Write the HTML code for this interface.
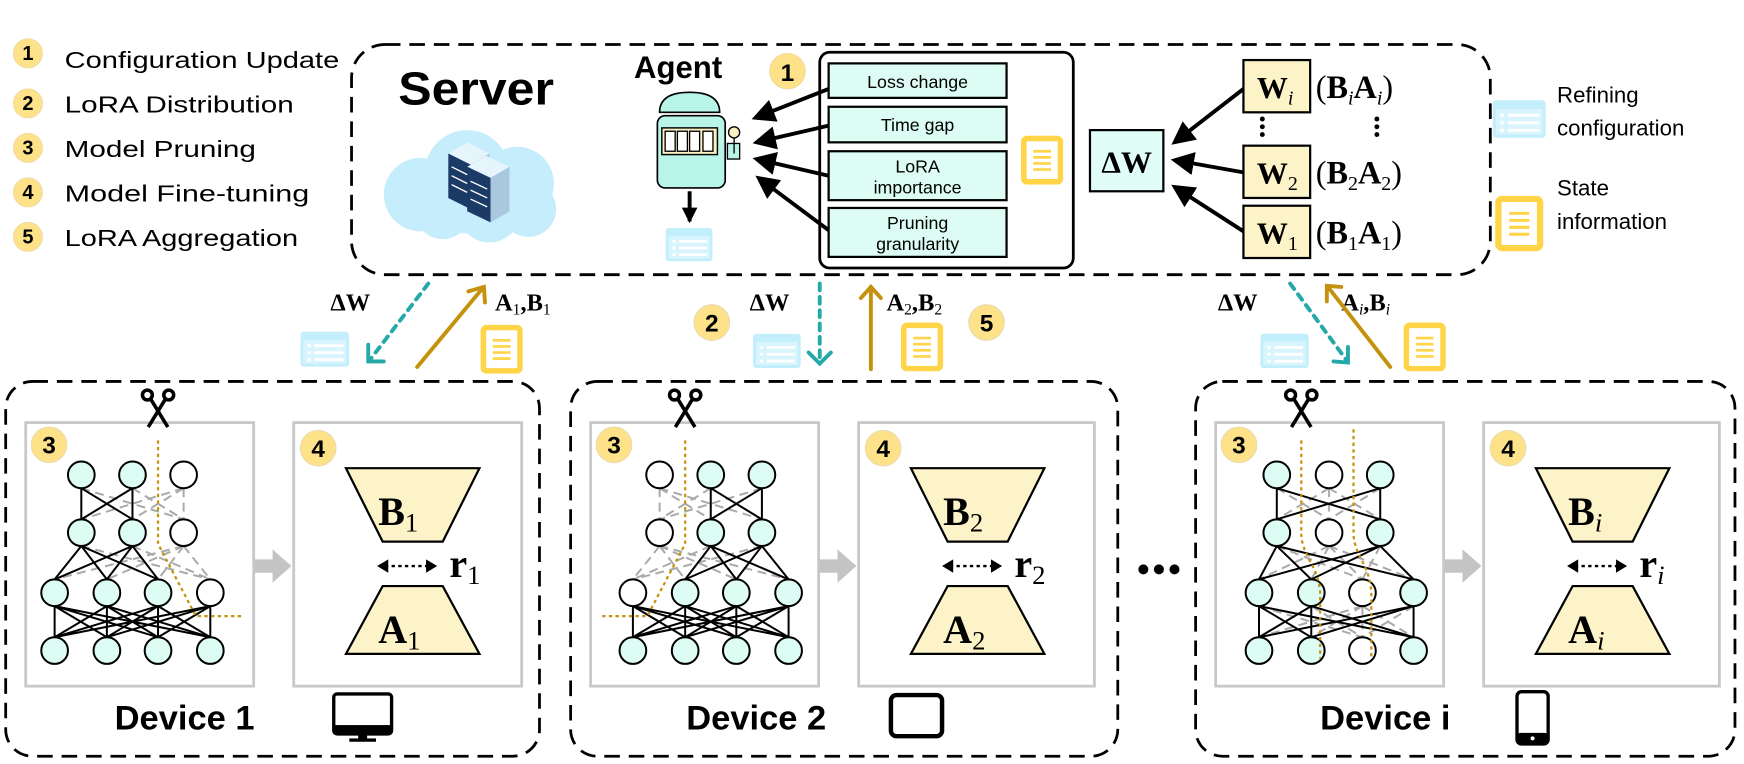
<!DOCTYPE html>
<html><head><meta charset="utf-8"><style>
html,body{margin:0;padding:0;background:#fff;}
svg{display:block;}
.s{font-family:"Liberation Sans",sans-serif;}
.m{font-family:"Liberation Serif",serif;}
</style></head><body>
<svg width="1744" height="764" viewBox="0 0 1568 687" xmlns="http://www.w3.org/2000/svg">
<defs>
<marker id="ab" markerWidth="6" markerHeight="6" refX="5" refY="3" orient="auto" markerUnits="strokeWidth"><path d="M0,0 L6,3 L0,6 Z" fill="#000"/></marker>
<marker id="ab2" markerWidth="4" markerHeight="4" refX="3.5" refY="2" orient="auto" markerUnits="strokeWidth"><path d="M0,0 L4,2 L0,4 Z" fill="#000"/></marker>
<symbol id="blue" viewBox="0 0 42 30"><rect x="0" y="0" width="42" height="30" rx="3" fill="#c3eefc"/><rect x="2.5" y="7" width="37" height="20.5" fill="#fff" opacity="0.35"/><g stroke="#fff" stroke-width="2.4"><line x1="6" y1="12" x2="9" y2="12"/><line x1="12" y1="12" x2="37" y2="12"/><line x1="6" y1="18" x2="9" y2="18"/><line x1="12" y1="18" x2="37" y2="18"/><line x1="6" y1="24" x2="9" y2="24"/><line x1="12" y1="24" x2="37" y2="24"/></g></symbol>
<symbol id="doc" viewBox="0 0 38 44"><rect x="2.5" y="2.5" width="33" height="39" rx="3" fill="#fff" stroke="#ffd447" stroke-width="5"/><g stroke="#ffd447" stroke-width="2.4"><line x1="11" y1="14" x2="27" y2="14"/><line x1="11" y1="19.5" x2="27" y2="19.5"/><line x1="11" y1="25" x2="27" y2="25"/><line x1="11" y1="30.5" x2="27" y2="30.5"/></g></symbol>
<symbol id="sc" viewBox="0 0 40 48"><g stroke="#000" stroke-width="4" fill="none"><circle cx="8" cy="8" r="5.5"/><circle cx="32" cy="8" r="5.5"/><line x1="12" y1="13" x2="31" y2="44"/><line x1="28" y1="13" x2="9" y2="44"/></g></symbol>
</defs>

<!-- legend -->
<g class="s" font-size="19" fill="#000">
<g fill="#fde28a" stroke="#f1dba0" stroke-width="1">
<circle cx="25" cy="48" r="13"/><circle cx="25" cy="93" r="13"/><circle cx="25" cy="133" r="13"/><circle cx="25" cy="173" r="13"/><circle cx="25" cy="213" r="13"/></g>
<g font-weight="bold" font-size="18" text-anchor="middle"><text x="25" y="54">1</text><text x="25" y="99">2</text><text x="25" y="139">3</text><text x="25" y="179">4</text><text x="25" y="219">5</text></g>
<g font-size="21">
<text x="58" y="61" textLength="247" lengthAdjust="spacingAndGlyphs">Configuration Update</text>
<text x="58" y="101" textLength="206" lengthAdjust="spacingAndGlyphs">LoRA Distribution</text>
<text x="58" y="141" textLength="172" lengthAdjust="spacingAndGlyphs">Model Pruning</text>
<text x="58" y="181" textLength="220" lengthAdjust="spacingAndGlyphs">Model Fine-tuning</text>
<text x="58" y="221" textLength="210" lengthAdjust="spacingAndGlyphs">LoRA Aggregation</text></g>
</g>

<!-- server box -->
<rect x="316" y="40" width="1024" height="207" rx="30" fill="none" stroke="#000" stroke-width="2.5" stroke-dasharray="14 8"/>
<text x="358" y="94" class="s" font-size="42" font-weight="bold" textLength="140" lengthAdjust="spacingAndGlyphs">Server</text>
<!-- cloud -->
<g fill="#c6edfb">
<circle cx="378" cy="175" r="33"/><circle cx="420" cy="155" r="38"/><circle cx="465" cy="165" r="33"/><circle cx="440" cy="190" r="28"/><circle cx="398" cy="190" r="25"/><circle cx="475" cy="188" r="25"/><ellipse cx="425" cy="185" rx="70" ry="25"/>
</g>
<g>
<polygon points="403,138 420,128 440,138 423,148" fill="#e6f4fc"/>
<polygon points="403,138 423,148 423,188 403,178" fill="#1b3a66"/>
<polygon points="423,148 440,138 440,178 423,188" fill="#a9c7de"/>
<polygon points="420,150 437,140 458,150 441,160" fill="#e6f4fc"/>
<polygon points="420,150 441,160 441,200 420,190" fill="#1b3a66"/>
<polygon points="441,160 458,150 458,190 441,200" fill="#a9c7de"/>
<g stroke="#fff" stroke-width="1.2"><line x1="406" y1="150" x2="420" y2="157"/><line x1="406" y1="158" x2="420" y2="165"/><line x1="406" y1="166" x2="420" y2="173"/><line x1="423" y1="163" x2="438" y2="170"/><line x1="423" y1="171" x2="438" y2="178"/><line x1="423" y1="179" x2="438" y2="186"/></g>
</g>

<!-- agent -->
<text x="570" y="70" class="s" font-size="28" font-weight="bold">Agent</text>
<circle cx="708" cy="64" r="16" fill="#fde28a" stroke="#f1dba0"/>
<text x="708" y="73" class="s" font-size="22" font-weight="bold" text-anchor="middle">1</text>
<path d="M593,101 Q593,83 620,83 Q647,83 647,101 Z" fill="#b8f5e8" stroke="#000" stroke-width="1.5"/>
<rect x="591" y="104" width="61" height="65" rx="7" fill="#b8f5e8" stroke="#000" stroke-width="1.5"/>
<rect x="595" y="115" width="50" height="24" fill="#fbf0c4" stroke="#000" stroke-width="1.3"/>
<g fill="#fff" stroke="#000" stroke-width="1.2"><rect x="598" y="118" width="9" height="18"/><rect x="609" y="118" width="9" height="18"/><rect x="620" y="118" width="9" height="18"/><rect x="632" y="118" width="9" height="18"/></g>
<rect x="654" y="129" width="11" height="14" fill="#b8f5e8" stroke="#000" stroke-width="1.2"/>
<line x1="660" y1="121" x2="660" y2="138" stroke="#000" stroke-width="1.2"/>
<circle cx="660" cy="119" r="5" fill="#fbf0c4" stroke="#000" stroke-width="1.2"/>
<line x1="620" y1="172" x2="620" y2="199" stroke="#000" stroke-width="3.5" marker-end="url(#ab2)"/>
<use href="#blue" x="598" y="205" width="43" height="30"/>

<!-- inner panel -->
<rect x="737" y="47" width="228" height="194" rx="9" fill="#fff" stroke="#000" stroke-width="2.5"/>
<g fill="#dcfcf4" stroke="#000" stroke-width="2">
<rect x="745" y="57" width="160" height="31"/><rect x="745" y="96" width="160" height="32"/><rect x="745" y="136" width="160" height="44"/><rect x="745" y="187" width="160" height="44"/></g>
<g class="s" font-size="16" text-anchor="middle">
<text x="825" y="79">Loss change</text>
<text x="825" y="118">Time gap</text>
<text x="825" y="155">LoRA</text><text x="825" y="174">importance</text>
<text x="825" y="206">Pruning</text><text x="825" y="225">granularity</text></g>
<use href="#doc" x="918" y="122" width="38" height="44"/>
<g stroke="#000" stroke-width="3.5" marker-end="url(#ab)">
<line x1="745" y1="80" x2="679" y2="106"/><line x1="745" y1="113" x2="680" y2="128"/><line x1="745" y1="158" x2="680" y2="143"/><line x1="745" y1="207" x2="682" y2="160"/></g>

<!-- ΔW and W boxes -->
<rect x="980" y="117" width="66" height="55" fill="#e0fdf7" stroke="#000" stroke-width="2"/>
<text x="1013" y="155" class="m" font-size="28" font-weight="bold" text-anchor="middle">ΔW</text>
<g fill="#fdf3c8" stroke="#000" stroke-width="2">
<rect x="1118" y="54" width="60" height="47"/><rect x="1118" y="131" width="60" height="47"/><rect x="1118" y="185" width="60" height="47"/></g>
<g class="m" font-size="28" font-weight="bold">
<text x="1130" y="88">W<tspan font-size="18" font-style="italic" font-weight="normal" dy="6">i</tspan></text>
<text x="1130" y="165">W<tspan font-size="18" font-weight="normal" dy="6">2</tspan></text>
<text x="1130" y="219">W<tspan font-size="18" font-weight="normal" dy="6">1</tspan></text></g>
<g class="m" font-size="29" font-weight="bold">
<text x="1183" y="88"><tspan font-weight="normal">(</tspan>B<tspan font-size="18" font-style="italic" font-weight="normal" dy="6">i</tspan><tspan dy="-6">A</tspan><tspan font-size="18" font-style="italic" font-weight="normal" dy="6">i</tspan><tspan dy="-6" font-weight="normal">)</tspan></text>
<text x="1183" y="165"><tspan font-weight="normal">(</tspan>B<tspan font-size="18" font-weight="normal" dy="6">2</tspan><tspan dy="-6">A</tspan><tspan font-size="18" font-weight="normal" dy="6">2</tspan><tspan dy="-6" font-weight="normal">)</tspan></text>
<text x="1183" y="219"><tspan font-weight="normal">(</tspan>B<tspan font-size="18" font-weight="normal" dy="6">1</tspan><tspan dy="-6">A</tspan><tspan font-size="18" font-weight="normal" dy="6">1</tspan><tspan dy="-6" font-weight="normal">)</tspan></text></g>
<g fill="#000"><circle cx="1135" cy="107" r="2.2"/><circle cx="1135" cy="114" r="2.2"/><circle cx="1135" cy="121" r="2.2"/><circle cx="1238" cy="107" r="2.2"/><circle cx="1238" cy="114" r="2.2"/><circle cx="1238" cy="121" r="2.2"/></g>
<g stroke="#000" stroke-width="3.5" marker-end="url(#ab)">
<line x1="1118" y1="80" x2="1056" y2="128"/><line x1="1118" y1="155" x2="1056" y2="144"/><line x1="1118" y1="208" x2="1056" y2="168"/></g>

<!-- right legend -->
<use href="#blue" x="1342" y="90" width="48" height="34"/>
<use href="#doc" x="1344" y="176" width="44" height="50"/>
<g class="s" font-size="20"><text x="1400" y="92">Refining</text><text x="1400" y="122">configuration</text><text x="1400" y="176">State</text><text x="1400" y="206">information</text></g>

<!-- connectors -->
<g class="m" font-size="22" font-weight="bold">
<text x="297" y="279">ΔW</text>
<text x="674" y="279">ΔW</text>
<text x="1095" y="279">ΔW</text>
<text x="445" y="279">A<tspan font-size="14" font-weight="normal" dy="4">1</tspan><tspan dy="-4">,B</tspan><tspan font-size="14" font-weight="normal" dy="4">1</tspan></text>
<text x="797" y="279">A<tspan font-size="14" font-weight="normal" dy="4">2</tspan><tspan dy="-4">,B</tspan><tspan font-size="14" font-weight="normal" dy="4">2</tspan></text>
<text x="1206" y="279">A<tspan font-size="14" font-style="italic" font-weight="normal" dy="4">i</tspan><tspan dy="-4">,B</tspan><tspan font-size="14" font-style="italic" font-weight="normal" dy="4">i</tspan></text></g>
<g stroke="#25a8a8" stroke-width="3.5" fill="none" stroke-linecap="round">
<line x1="385" y1="255" x2="333" y2="323" stroke-dasharray="6 6"/><polyline points="331,310 331,325 345,325"/>
<line x1="737" y1="255" x2="737" y2="325" stroke-dasharray="6 6"/><polyline points="727,317 737,327 747,317"/>
<line x1="1160" y1="255" x2="1210" y2="323" stroke-dasharray="6 6"/><polyline points="1199,325 1212,326 1212,312"/></g>
<g stroke="#c4920d" stroke-width="3.5" fill="none" stroke-linecap="round">
<line x1="375" y1="330" x2="434" y2="259"/><polyline points="421,262 435,258 436,272"/>
<line x1="783" y1="332" x2="783" y2="258"/><polyline points="774,268 783,258 792,268"/>
<line x1="1250" y1="330" x2="1194" y2="258"/><polyline points="1193,271 1193,257 1206,258"/></g>
<use href="#blue" x="270" y="298" width="44" height="32"/>
<use href="#doc" x="432" y="292" width="38" height="44"/>
<use href="#blue" x="677" y="300" width="43" height="31"/>
<use href="#doc" x="810" y="290" width="38" height="44"/>
<use href="#blue" x="1133" y="300" width="44" height="31"/>
<use href="#doc" x="1262" y="290" width="38" height="44"/>
<g fill="#fde28a" stroke="#e8dbb0"><circle cx="640" cy="290" r="16"/><circle cx="887" cy="290" r="16"/></g>
<g class="s" font-size="22" font-weight="bold" text-anchor="middle"><text x="640" y="298">2</text><text x="887" y="298">5</text></g>

<!-- device boxes -->
<g fill="none" stroke="#000" stroke-width="2.5" stroke-dasharray="14 8">
<rect x="5" y="343" width="480" height="337" rx="24"/>
<rect x="513" y="343" width="492" height="337" rx="24"/>
<rect x="1075" y="343" width="485" height="337" rx="24"/></g>
<g fill="#fff" stroke="#c8c8c8" stroke-width="2.5">
<rect x="23" y="380" width="205" height="237"/><rect x="264" y="380" width="205" height="237"/>
<rect x="531" y="380" width="205" height="237"/><rect x="772" y="380" width="212" height="237"/>
<rect x="1093" y="380" width="205" height="237"/><rect x="1334" y="380" width="212" height="237"/></g>
<g fill="#c4c4c4">
<polygon points="229,503 245,503 245,494 262,509 245,524 245,515 229,515"/>
<polygon points="737,503 753,503 753,494 770,509 753,524 753,515 737,515"/>
<polygon points="1299,503 1315,503 1315,494 1332,509 1315,524 1315,515 1299,515"/></g>
<g fill="#000"><circle cx="1028" cy="512" r="4.5"/><circle cx="1042" cy="512" r="4.5"/><circle cx="1056" cy="512" r="4.5"/></g>

<!-- badges 3/4 -->
<g fill="#fde28a" stroke="#eadcb0"><circle cx="44" cy="400" r="16"/><circle cx="286" cy="403" r="16"/><circle cx="552" cy="400" r="16"/><circle cx="794" cy="403" r="16"/><circle cx="1114" cy="400" r="16"/><circle cx="1356" cy="403" r="16"/></g>
<g class="s" font-size="22" font-weight="bold" text-anchor="middle"><text x="44" y="408">3</text><text x="286" y="411">4</text><text x="552" y="408">3</text><text x="794" y="411">4</text><text x="1114" y="408">3</text><text x="1356" y="411">4</text></g>

<!-- NN D1 -->
<g stroke="#aaa" stroke-width="1.8" stroke-dasharray="8 5">
<line x1="73" y1="439" x2="165" y2="467"/><line x1="119" y1="439" x2="165" y2="467"/><line x1="165" y1="439" x2="73" y2="467"/><line x1="165" y1="439" x2="119" y2="467"/><line x1="165" y1="439" x2="165" y2="467"/>
<line x1="73" y1="491" x2="189" y2="521"/><line x1="119" y1="491" x2="189" y2="521"/><line x1="165" y1="491" x2="49" y2="521"/><line x1="165" y1="491" x2="96" y2="521"/><line x1="165" y1="491" x2="142" y2="521"/><line x1="165" y1="491" x2="189" y2="521"/></g>
<g stroke="#000" stroke-width="1.8">
<line x1="73" y1="439" x2="73" y2="467"/><line x1="73" y1="439" x2="119" y2="467"/><line x1="119" y1="439" x2="73" y2="467"/><line x1="119" y1="439" x2="119" y2="467"/>
<line x1="73" y1="491" x2="49" y2="521"/><line x1="73" y1="491" x2="96" y2="521"/><line x1="73" y1="491" x2="142" y2="521"/><line x1="119" y1="491" x2="49" y2="521"/><line x1="119" y1="491" x2="96" y2="521"/><line x1="119" y1="491" x2="142" y2="521"/>
<path d="M49,545 L49,573 M49,545 L96,573 M49,545 L142,573 M49,545 L189,573 M96,545 L49,573 M96,545 L96,573 M96,545 L142,573 M96,545 L189,573 M142,545 L49,573 M142,545 L96,573 M142,545 L142,573 M142,545 L189,573 M189,545 L49,573 M189,545 L96,573 M189,545 L142,573 M189,545 L189,573"/></g>
<g stroke="#000" stroke-width="1.8" fill="#dcfcf4">
<circle cx="73" cy="427" r="12"/><circle cx="119" cy="427" r="12"/><circle cx="165" cy="427" r="12" fill="#fff"/>
<circle cx="73" cy="479" r="12"/><circle cx="119" cy="479" r="12"/><circle cx="165" cy="479" r="12" fill="#fff"/>
<circle cx="49" cy="533" r="12"/><circle cx="96" cy="533" r="12"/><circle cx="142" cy="533" r="12"/><circle cx="189" cy="533" r="12" fill="#fff"/>
<circle cx="49" cy="585" r="12"/><circle cx="96" cy="585" r="12"/><circle cx="142" cy="585" r="12"/><circle cx="189" cy="585" r="12"/></g>
<polyline points="142,396 142,489 176,554 219,554" fill="none" stroke="#c4920d" stroke-width="2" stroke-dasharray="3 3"/>
<use href="#sc" x="126" y="348" width="32" height="40"/>

<!-- NN D2 (mirrored) -->
<g transform="translate(758,0) scale(-1,1)">
<g stroke="#aaa" stroke-width="1.8" stroke-dasharray="8 5">
<line x1="73" y1="439" x2="165" y2="467"/><line x1="119" y1="439" x2="165" y2="467"/><line x1="165" y1="439" x2="73" y2="467"/><line x1="165" y1="439" x2="119" y2="467"/><line x1="165" y1="439" x2="165" y2="467"/>
<line x1="73" y1="491" x2="189" y2="521"/><line x1="119" y1="491" x2="189" y2="521"/><line x1="165" y1="491" x2="49" y2="521"/><line x1="165" y1="491" x2="96" y2="521"/><line x1="165" y1="491" x2="142" y2="521"/><line x1="165" y1="491" x2="189" y2="521"/></g>
<g stroke="#000" stroke-width="1.8">
<line x1="73" y1="439" x2="73" y2="467"/><line x1="73" y1="439" x2="119" y2="467"/><line x1="119" y1="439" x2="73" y2="467"/><line x1="119" y1="439" x2="119" y2="467"/>
<line x1="73" y1="491" x2="49" y2="521"/><line x1="73" y1="491" x2="96" y2="521"/><line x1="73" y1="491" x2="142" y2="521"/><line x1="119" y1="491" x2="49" y2="521"/><line x1="119" y1="491" x2="96" y2="521"/><line x1="119" y1="491" x2="142" y2="521"/>
<path d="M49,545 L49,573 M49,545 L96,573 M49,545 L142,573 M49,545 L189,573 M96,545 L49,573 M96,545 L96,573 M96,545 L142,573 M96,545 L189,573 M142,545 L49,573 M142,545 L96,573 M142,545 L142,573 M142,545 L189,573 M189,545 L49,573 M189,545 L96,573 M189,545 L142,573 M189,545 L189,573"/></g>
<g stroke="#000" stroke-width="1.8" fill="#dcfcf4">
<circle cx="73" cy="427" r="12"/><circle cx="119" cy="427" r="12"/><circle cx="165" cy="427" r="12" fill="#fff"/>
<circle cx="73" cy="479" r="12"/><circle cx="119" cy="479" r="12"/><circle cx="165" cy="479" r="12" fill="#fff"/>
<circle cx="49" cy="533" r="12"/><circle cx="96" cy="533" r="12"/><circle cx="142" cy="533" r="12"/><circle cx="189" cy="533" r="12" fill="#fff"/>
<circle cx="49" cy="585" r="12"/><circle cx="96" cy="585" r="12"/><circle cx="142" cy="585" r="12"/><circle cx="189" cy="585" r="12"/></g>
<polyline points="142,396 142,489 176,554 219,554" fill="none" stroke="#c4920d" stroke-width="2" stroke-dasharray="3 3"/>
</g>
<use href="#sc" x="600" y="348" width="32" height="40"/>

<!-- NN Di -->
<g stroke="#aaa" stroke-width="1.8" stroke-dasharray="8 5">
<line x1="1148" y1="439" x2="1195" y2="467"/><line x1="1241" y1="439" x2="1195" y2="467"/><line x1="1195" y1="439" x2="1148" y2="467"/><line x1="1195" y1="439" x2="1241" y2="467"/><line x1="1195" y1="439" x2="1195" y2="467"/>
<line x1="1148" y1="491" x2="1225" y2="521"/><line x1="1241" y1="491" x2="1225" y2="521"/><line x1="1195" y1="491" x2="1132" y2="521"/><line x1="1195" y1="491" x2="1179" y2="521"/><line x1="1195" y1="491" x2="1271" y2="521"/><line x1="1195" y1="491" x2="1225" y2="521"/>
<line x1="1132" y1="545" x2="1225" y2="573"/><line x1="1179" y1="545" x2="1225" y2="573"/><line x1="1271" y1="545" x2="1225" y2="573"/><line x1="1225" y1="545" x2="1132" y2="573"/><line x1="1225" y1="545" x2="1179" y2="573"/><line x1="1225" y1="545" x2="1271" y2="573"/><line x1="1225" y1="545" x2="1225" y2="573"/></g>
<g stroke="#000" stroke-width="1.8">
<path d="M1148,439 L1148,467 M1148,439 L1241,467 M1241,439 L1148,467 M1241,439 L1241,467 M1148,491 L1132,521 M1148,491 L1179,521 M1148,491 L1271,521 M1241,491 L1132,521 M1241,491 L1179,521 M1241,491 L1271,521 M1132,545 L1132,573 M1132,545 L1179,573 M1132,545 L1271,573 M1179,545 L1132,573 M1179,545 L1179,573 M1179,545 L1271,573 M1271,545 L1132,573 M1271,545 L1179,573 M1271,545 L1271,573"/></g>
<g stroke="#000" stroke-width="1.8" fill="#dcfcf4">
<circle cx="1148" cy="427" r="12"/><circle cx="1195" cy="427" r="12" fill="#fff"/><circle cx="1241" cy="427" r="12"/>
<circle cx="1148" cy="479" r="12"/><circle cx="1195" cy="479" r="12" fill="#fff"/><circle cx="1241" cy="479" r="12"/>
<circle cx="1132" cy="533" r="12"/><circle cx="1179" cy="533" r="12"/><circle cx="1225" cy="533" r="12" fill="#fff"/><circle cx="1271" cy="533" r="12"/>
<circle cx="1132" cy="585" r="12"/><circle cx="1179" cy="585" r="12"/><circle cx="1225" cy="585" r="12" fill="#fff"/><circle cx="1271" cy="585" r="12"/></g>
<g fill="none" stroke="#c4920d" stroke-width="2" stroke-dasharray="3 3">
<path d="M1170,396 L1170,480 Q1170,490 1178,505 Q1187,520 1187,535 L1187,592"/>
<path d="M1217,386 L1217,480 Q1217,490 1225,505 Q1233,520 1233,535 L1233,592"/></g>
<use href="#sc" x="1154" y="348" width="32" height="40"/>

<!-- LoRA trapezoids -->
<g fill="#fdf3c8" stroke="#000" stroke-width="2">
<polygon points="311,421 431,421 398,487 344,487"/><polygon points="344,527 398,527 431,588 311,588"/>
<polygon points="819,421 939,421 906,487 852,487"/><polygon points="852,527 906,527 939,588 819,588"/>
<polygon points="1381,421 1501,421 1468,487 1414,487"/><polygon points="1414,527 1468,527 1501,588 1381,588"/></g>
<g class="m" font-size="36" font-weight="bold">
<text x="340" y="472">B<tspan font-size="24" font-weight="normal" dy="6">1</tspan></text>
<text x="340" y="578">A<tspan font-size="24" font-weight="normal" dy="6">1</tspan></text>
<text x="848" y="472">B<tspan font-size="24" font-weight="normal" dy="6">2</tspan></text>
<text x="848" y="578">A<tspan font-size="24" font-weight="normal" dy="6">2</tspan></text>
<text x="1410" y="472">B<tspan font-size="24" font-style="italic" font-weight="normal" dy="6">i</tspan></text>
<text x="1410" y="578">A<tspan font-size="24" font-style="italic" font-weight="normal" dy="6">i</tspan></text>
<text x="404" y="519">r<tspan font-size="24" font-weight="normal" dy="6">1</tspan></text>
<text x="912" y="519">r<tspan font-size="24" font-weight="normal" dy="6">2</tspan></text>
<text x="1474" y="519">r<tspan font-size="24" font-style="italic" font-weight="normal" dy="6">i</tspan></text></g>
<g stroke="#000" stroke-width="2.2" stroke-dasharray="3 3" fill="none">
<line x1="346" y1="509" x2="386" y2="509"/><line x1="854" y1="509" x2="894" y2="509"/><line x1="1416" y1="509" x2="1456" y2="509"/></g>
<g fill="#000"><polygon points="339,509 349,503 349,515"/><polygon points="393,509 383,503 383,515"/><polygon points="847,509 857,503 857,515"/><polygon points="901,509 891,503 891,515"/><polygon points="1409,509 1419,503 1419,515"/><polygon points="1463,509 1453,503 1453,515"/></g>

<!-- device labels -->
<g class="s" font-size="31" font-weight="bold"><text x="103" y="656">Device 1</text><text x="617" y="656">Device 2</text><text x="1187" y="656">Device i</text></g>
<rect x="300" y="624" width="52" height="36" rx="3" fill="#fff" stroke="#000" stroke-width="3"/><rect x="300" y="652" width="52" height="8" fill="#000"/><rect x="322" y="660" width="8" height="5" fill="#000"/><rect x="314" y="664" width="24" height="3" fill="#000"/>
<rect x="801" y="625" width="46" height="37" rx="5" fill="#fff" stroke="#000" stroke-width="4"/>
<rect x="1364" y="622" width="28" height="47" rx="4" fill="#fff" stroke="#000" stroke-width="3"/><rect x="1364" y="659" width="28" height="10" rx="3" fill="#000"/><circle cx="1378" cy="664" r="1.8" fill="#fff"/>
</svg>
</body></html>
